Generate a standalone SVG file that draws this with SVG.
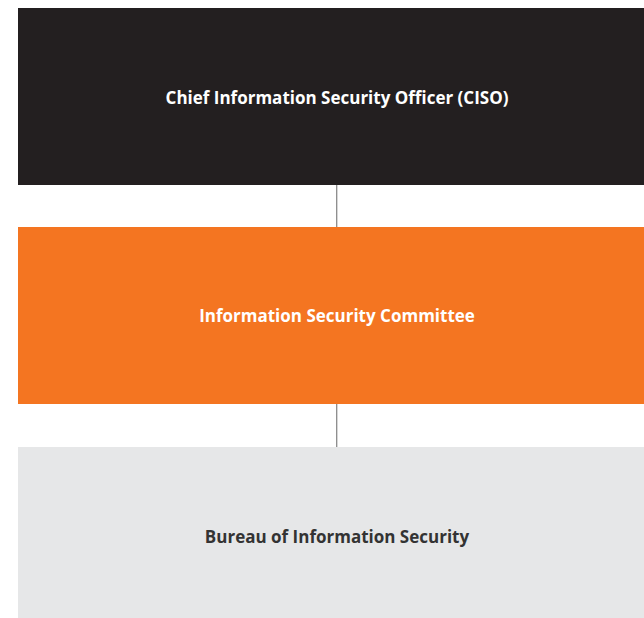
<svg xmlns="http://www.w3.org/2000/svg" width="644" height="618" viewBox="0 0 644 618">
<style>
.lbl{font-family:"Open Sans","Liberation Sans",sans-serif;font-weight:bold;font-size:17px;text-anchor:middle}
.conn{stroke:#8a8a8a;stroke-width:1.3;fill:none}
</style>
<rect width="644" height="618" fill="#ffffff"/>
<g id="connectors">
<line class="conn" x1="336.7" y1="185" x2="336.7" y2="227"/>
<line class="conn" x1="336.7" y1="404" x2="336.7" y2="447"/>
</g>
<g id="ciso">
<rect x="18" y="8" width="626" height="177" fill="#231f20"/>
<text class="lbl" x="337" y="104" fill="#ffffff">Chief Information Security Officer (CISO)</text>
</g>
<g id="committee">
<rect x="18" y="227" width="626" height="177" fill="#f47521"/>
<text class="lbl" x="337" y="322" fill="#ffffff">Information Security Committee</text>
</g>
<g id="bureau">
<rect x="18" y="447" width="626" height="171" fill="#e6e7e8"/>
<text class="lbl" x="337" y="543" fill="#333333">Bureau of Information Security</text>
</g>
</svg>
